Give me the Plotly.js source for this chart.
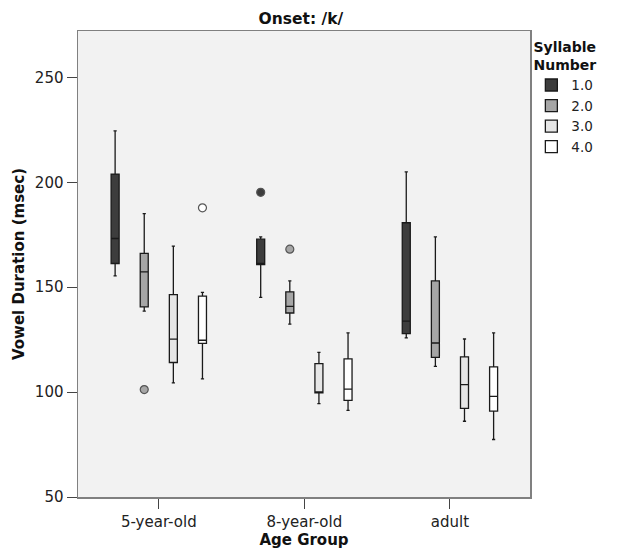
<!DOCTYPE html>
<html>
<head>
<meta charset="utf-8">
<script src="https://cdn.plot.ly/plotly-3.0.1.min.js"></script>
<style>html,body{margin:0;padding:0;background:#fff;}#chart{width:621px;height:557px;}</style>
</head>
<body>
<div id="chart"></div>
<script>
var categories = ['5-year-old', '8-year-old', 'adult'];
var seriesNames = ['1.0', '2.0', '3.0', '4.0'];

// Syllable 1.0
var s1Lower = [155.4, 145.1, 125.8];
var s1Q1 = [161.3, 160.8, 127.9];
var s1Median = [173.2, 161.3, 133.8];
var s1Q3 = [203.9, 172.9, 180.7];
var s1Upper = [224.5, 174.0, 205.0];
var s1Outliers = [[null], [195.2], [null]];

// Syllable 2.0
var s2Lower = [138.6, 132.4, 112.3];
var s2Q1 = [140.6, 137.7, 116.5];
var s2Median = [157.3, 140.9, 123.4];
var s2Q3 = [166.1, 147.8, 153.0];
var s2Upper = [185.1, 153.0, 174.0];
var s2Outliers = [[101.2], [168.1], [null]];

// Syllable 3.0
var s3Lower = [104.4, 94.5, 86.1];
var s3Q1 = [114.1, 99.6, 92.2];
var s3Median = [125.2, 100.1, 103.6];
var s3Q3 = [146.5, 113.6, 116.8];
var s3Upper = [169.6, 118.9, 125.3];
var s3Outliers = [[null], [null], [null]];

// Syllable 4.0
var s4Lower = [106.3, 91.3, 77.4];
var s4Q1 = [123.2, 96.1, 90.9];
var s4Median = [124.7, 101.4, 98.0];
var s4Q3 = [145.7, 115.8, 112.0];
var s4Upper = [147.5, 128.2, 128.2];
var s4Outliers = [[187.8], [null], [null]];

var yTicks = [50, 100, 150, 200, 250];

var fills = ['#3d3d3d', '#a6a6a6', '#e6e6e6', '#ffffff'];
var stats = [
  [s1Lower, s1Q1, s1Median, s1Q3, s1Upper, s1Outliers],
  [s2Lower, s2Q1, s2Median, s2Q3, s2Upper, s2Outliers],
  [s3Lower, s3Q1, s3Median, s3Q3, s3Upper, s3Outliers],
  [s4Lower, s4Q1, s4Median, s4Q3, s4Upper, s4Outliers]
];

var traces = stats.map(function (s, i) {
  return {
    type: 'box',
    name: seriesNames[i],
    x: categories,
    y: s[5],
    lowerfence: s[0],
    q1: s[1],
    median: s[2],
    q3: s[3],
    upperfence: s[4],
    boxpoints: 'outliers',
    jitter: 0,
    pointpos: 0,
    whiskerwidth: 0.4,
    fillcolor: fills[i],
    line: {color: '#1a1a1a', width: 1.3},
    marker: {
      color: fills[i],
      size: 8,
      line: {color: '#555555', width: 1.2},
      outliercolor: fills[i]
    },
    hoverinfo: 'y'
  };
});

var fontFam = '"DejaVu Sans", "Liberation Sans", sans-serif';

var layout = {
  width: 621,
  height: 557,
  margin: {l: 78, r: 91, t: 31, b: 60},
  paper_bgcolor: '#ffffff',
  plot_bgcolor: '#f2f2f2',
  font: {family: fontFam, size: 15, color: '#222222'},
  boxmode: 'group',
  boxgap: 0.2,
  boxgroupgap: 0.725,
  title: {
    text: '<b>Onset: /k/</b>',
    font: {family: fontFam, size: 15.5, color: '#111111'},
    xref: 'paper', x: 0.493, xanchor: 'center',
    yref: 'container', y: 0.966, yanchor: 'middle'
  },
  xaxis: {
    type: 'category',
    range: [-0.555, 2.55],
    showgrid: false,
    zeroline: false,
    showline: true, mirror: true,
    linecolor: '#808080', linewidth: 1.5,
    ticks: 'outside', ticklen: 10, tickcolor: '#444444', tickwidth: 1,
    tickfont: {family: fontFam, size: 15, color: '#222222'},
    title: {text: '<b>Age Group</b>', font: {family: fontFam, size: 15, color: '#111111'}, standoff: 4}
  },
  yaxis: {
    range: [50, 272.1],
    tickvals: yTicks,
    ticktext: yTicks.map(String),
    showgrid: false,
    zeroline: false,
    showline: true, mirror: true,
    linecolor: '#808080', linewidth: 1.5,
    ticks: 'outside', ticklen: 10, tickcolor: '#444444', tickwidth: 1,
    tickfont: {family: fontFam, size: 15, color: '#222222'},
    title: {text: '<b>Vowel Duration (msec)</b>', font: {family: fontFam, size: 15, color: '#111111'}, standoff: 6}
  },
  showlegend: true,
  legend: {
    x: 1.003, xanchor: 'left',
    y: 0.995, yanchor: 'top',
    bgcolor: 'rgba(0,0,0,0)',
    font: {family: fontFam, size: 13.5, color: '#222222'},
    title: {text: '<b>Syllable<br>Number</b>', side: 'top center', font: {family: fontFam, size: 14, color: '#111111'}},
    tracegroupgap: 0,
    itemwidth: 30
  }
};

Plotly.newPlot('chart', traces, layout, {displayModeBar: false, staticPlot: true});
</script>
</body>
</html>
